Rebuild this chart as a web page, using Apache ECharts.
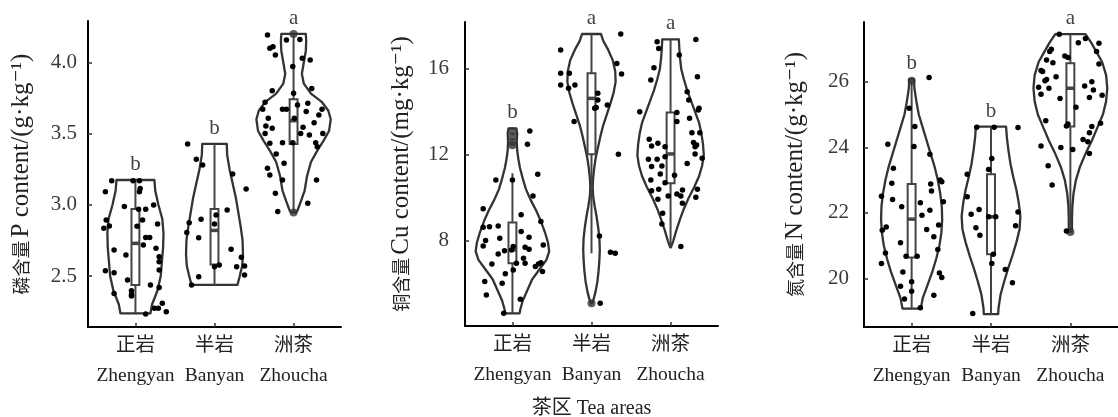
<!DOCTYPE html>
<html><head><meta charset="utf-8">
<script src="https://cdn.jsdelivr.net/npm/echarts@6/dist/echarts.min.js"></script>
<style>html,body{margin:0;padding:0;background:#fff}#c{width:1118px;height:417px}</style>
</head><body><div id="c"></div><script>
// ---------- data ----------
const catsZh = ['正岩', '半岩', '洲茶'];
const catsEn = ['Zhengyan', 'Banyan', 'Zhoucha'];
const yNamesZh = ['磷含量', '铜含量', '氮含量'];
const yNamesEn = ['P content/(g·kg⁻¹)', 'Cu content/(mg·kg⁻¹)', 'N content/(g·kg⁻¹)'];
const xTitle = '茶区 Tea areas';
const yTicksP = [2.5, 3.0, 3.5, 4.0];
const yTicksCu = [8, 12, 16];
const yTicksN = [20, 22, 24, 26];
const lettersP = ['b', 'b', 'a'];
const lettersCu = ['b', 'a', 'a'];
const lettersN = ['b', 'b', 'a'];

// violin outlines: [value, half width (category units)], top to bottom
const violinP = [
  [[3.174,0.24],[3.10,0.25],[3.00,0.29],[2.90,0.34],[2.80,0.355],[2.70,0.35],[2.60,0.335],[2.50,0.32],[2.40,0.28],[2.30,0.21],[2.238,0.19]],
  [[3.427,0.155],[3.35,0.16],[3.25,0.19],[3.15,0.23],[3.05,0.27],[2.95,0.30],[2.85,0.33],[2.75,0.355],[2.65,0.36],[2.57,0.35],[2.50,0.32],[2.437,0.29]],
  [[4.199,0.155],[4.15,0.16],[4.08,0.155],[4.00,0.13],[3.92,0.105],[3.85,0.13],[3.78,0.22],[3.72,0.36],[3.66,0.44],[3.60,0.47],[3.52,0.45],[3.45,0.38],[3.38,0.30],[3.30,0.22],[3.20,0.17],[3.10,0.14],[3.02,0.09],[2.96,0.05],[2.945,0.03]]
];
const violinCu = [
  [[13.23,0.05],[13.0,0.06],[12.6,0.055],[12.2,0.06],[11.8,0.075],[11.4,0.095],[10.9,0.13],[10.4,0.17],[9.9,0.23],[9.4,0.30],[8.9,0.36],[8.4,0.41],[7.9,0.45],[7.5,0.465],[7.1,0.43],[6.7,0.35],[6.2,0.25],[5.7,0.19],[5.2,0.13],[4.8,0.10],[4.61,0.09]],
  [[17.63,0.12],[17.3,0.15],[16.9,0.21],[16.4,0.27],[15.9,0.30],[15.4,0.305],[14.9,0.28],[14.4,0.24],[13.9,0.195],[13.4,0.15],[12.9,0.115],[12.4,0.085],[11.9,0.055],[11.4,0.035],[10.9,0.02],[10.5,0.015],[10.1,0.02],[9.6,0.04],[9.1,0.065],[8.6,0.085],[8.1,0.10],[7.6,0.105],[7.1,0.10],[6.6,0.09],[6.1,0.075],[5.6,0.05],[5.25,0.025],[5.08,0.005]],
  [[17.38,0.105],[17.0,0.11],[16.5,0.12],[16.0,0.135],[15.5,0.17],[15.0,0.21],[14.5,0.26],[14.0,0.31],[13.5,0.36],[13.0,0.39],[12.5,0.41],[12.0,0.42],[11.5,0.40],[11.0,0.36],[10.5,0.30],[10.0,0.23],[9.5,0.17],[9.0,0.12],[8.5,0.075],[8.0,0.035],[7.69,0.005]]
];
const violinN = [
  [[26.07,0.03],[25.8,0.035],[25.4,0.06],[25.0,0.09],[24.6,0.14],[24.2,0.19],[23.8,0.24],[23.4,0.29],[23.0,0.33],[22.6,0.36],[22.2,0.38],[21.8,0.385],[21.4,0.375],[21.0,0.35],[20.6,0.31],[20.2,0.26],[19.8,0.20],[19.4,0.14],[19.08,0.115]],
  [[24.63,0.19],[24.3,0.20],[23.9,0.22],[23.5,0.245],[23.1,0.28],[22.7,0.32],[22.3,0.35],[21.9,0.37],[21.5,0.36],[21.1,0.32],[20.7,0.27],[20.3,0.215],[19.9,0.165],[19.5,0.12],[19.1,0.095],[18.91,0.09]],
  [[27.45,0.19],[27.2,0.26],[26.9,0.33],[26.6,0.40],[26.2,0.45],[25.8,0.465],[25.4,0.45],[25.0,0.41],[24.6,0.34],[24.2,0.27],[23.8,0.19],[23.4,0.12],[23.0,0.07],[22.6,0.04],[22.2,0.025],[21.8,0.02],[21.5,0.02],[21.42,0.015]]
];

// box stats: [whisker low, q1, median, q3, whisker high]
const boxP = [[2.238,2.437,2.729,2.970,3.174],[2.437,2.58,2.82,2.970,3.427],[2.945,3.427,3.59,3.74,4.199]];
const boxCu = [[4.61,6.94,7.57,8.84,11.14],[7.41,12.02,14.63,15.80,17.63],[7.69,10.67,12.04,13.97,17.38]];
const boxN = [[19.08,20.64,21.81,22.88,26.03],[18.91,20.74,21.88,23.18,24.63],[21.42,24.63,25.80,26.56,27.45]];
const outP = [[], [], [4.199, 2.945]];
const outCu = [[12.45, 12.6, 12.85, 13.1], [5.08], []];
const outN = [[26.03], [], [21.42]];

// jittered observations: [horizontal jitter (category units), value]
const ptsP = [
  [[-0.30,3.169],[-0.38,3.092],[-0.37,2.893],[-0.40,2.835],[-0.33,2.851],[-0.27,2.682],[-0.38,2.537],[-0.27,2.523],[-0.27,2.378],[-0.12,2.647],[-0.14,2.987],[-0.10,2.472],[-0.05,2.397],[-0.05,2.37],[-0.05,2.359],[-0.03,3.169],[0.05,3.169],[0.06,3.115],[0.05,3.092],[0.04,2.968],[0.13,2.968],[0.09,2.893],[0.02,2.85],[0.10,2.718],[0.13,2.771],[0.18,2.771],[0.23,2.998],[0.28,2.865],[0.26,2.694],[0.30,2.636],[0.30,2.600],[0.30,2.542],[0.30,2.420],[0.19,2.437],[0.34,2.308],[0.29,2.273],[0.24,2.273],[0.13,2.233],[0.39,2.249]],
  [[-0.34,3.427],[-0.23,3.319],[-0.15,3.279],[0.23,3.216],[0.40,3.111],[-0.32,2.874],[-0.17,2.898],[-0.35,2.806],[-0.20,2.769],[0.02,2.928],[0.00,2.865],[0.16,2.963],[0.21,2.687],[0.00,2.565],[0.06,2.577],[0.34,2.631],[0.28,2.565],[0.38,2.57],[0.38,2.507],[-0.20,2.495],[-0.29,2.437]],
  [[-0.33,4.192],[-0.30,4.098],[-0.26,4.110],[-0.23,4.051],[-0.09,4.157],[0.08,4.161],[-0.01,3.970],[0.11,4.028],[0.21,4.016],[0.23,3.817],[-0.27,3.801],[-0.36,3.719],[-0.39,3.670],[-0.32,3.607],[-0.35,3.553],[-0.27,3.537],[-0.36,3.501],[-0.30,3.431],[-0.22,3.356],[-0.12,3.291],[-0.33,3.256],[-0.30,3.209],[-0.14,3.174],[-0.23,3.080],[-0.20,2.952],[-0.14,3.670],[-0.09,3.670],[0.00,3.782],[0.05,3.700],[0.16,3.654],[0.18,3.712],[0.01,3.607],[0.12,3.544],[0.09,3.501],[0.20,3.490],[-0.01,3.436],[-0.14,3.436],[0.36,3.670],[0.32,3.630],[0.26,3.576],[0.37,3.501],[0.28,3.436],[0.30,3.408],[0.29,3.174],[0.18,3.010]]
];
const ptsCu = [
  [[-0.37,9.48],[-0.21,10.83],[-0.29,8.65],[-0.18,8.68],[-0.37,8.62],[-0.34,8.00],[-0.37,7.75],[-0.16,8.11],[-0.18,7.38],[-0.10,7.53],[-0.26,6.91],[-0.35,6.09],[-0.33,5.47],[-0.13,6.01],[-0.09,6.45],[-0.01,7.56],[0.01,7.72],[0.00,10.83],[0.11,9.20],[0.11,8.42],[0.21,8.16],[0.21,7.60],[0.16,7.69],[0.14,7.18],[0.05,6.94],[0.01,6.63],[0.16,6.94],[0.33,6.91],[0.36,6.97],[0.29,6.79],[0.38,6.56],[0.39,7.80],[0.36,8.89],[0.26,10.08],[0.32,11.09],[0.19,12.49],[0.22,13.11],[0.10,5.27],[-0.11,4.61]],
  [[-0.39,16.89],[-0.39,15.80],[-0.28,15.80],[-0.39,15.25],[-0.29,15.10],[-0.21,15.25],[-0.22,13.55],[0.08,14.87],[0.08,14.56],[0.06,14.21],[0.04,14.17],[0.20,14.32],[0.32,16.26],[0.37,17.63],[0.38,15.77],[0.34,12.02],[0.10,8.22],[0.24,7.46],[0.30,7.41],[0.11,5.08]],
  [[-0.39,14.01],[-0.17,17.27],[-0.15,16.96],[-0.21,16.06],[-0.25,15.49],[0.11,16.65],[0.32,17.38],[0.34,15.64],[0.21,14.94],[0.23,14.56],[0.36,14.17],[0.35,14.09],[0.24,13.70],[0.08,13.97],[0.08,13.55],[0.27,13.03],[0.37,13.03],[0.29,12.57],[0.31,12.38],[0.33,12.46],[0.31,12.04],[0.40,11.84],[0.21,11.60],[0.05,11.05],[-0.27,12.72],[-0.24,12.41],[-0.16,12.54],[-0.07,12.38],[-0.28,11.79],[-0.24,11.45],[-0.11,11.48],[-0.17,11.79],[-0.07,11.91],[-0.13,11.11],[-0.25,10.83],[-0.24,10.33],[-0.15,10.39],[-0.07,10.70],[-0.16,9.93],[-0.03,10.08],[-0.10,9.27],[-0.11,8.78],[0.08,10.17],[0.15,10.36],[0.13,10.08],[0.15,9.74],[0.34,10.39],[0.32,10.02],[0.13,7.72]]
];
const ptsN = [
  [[-0.30,24.09],[-0.23,23.36],[-0.25,22.90],[-0.24,22.41],[-0.38,22.51],[-0.37,21.47],[-0.32,21.57],[-0.33,20.78],[-0.38,20.46],[-0.14,21.09],[-0.11,20.20],[-0.14,19.76],[-0.09,19.37],[-0.07,20.68],[-0.03,25.19],[0.04,24.63],[0.03,24.02],[0.00,19.90],[0.00,19.61],[0.07,20.68],[0.11,22.31],[0.13,21.93],[0.19,21.49],[0.22,26.13],[0.23,23.79],[0.24,22.88],[0.25,22.67],[0.23,22.08],[0.34,21.63],[0.28,21.27],[0.33,20.88],[0.36,23.00],[0.38,22.95],[0.40,22.34],[0.35,20.17],[0.38,20.03],[0.28,19.49],[0.11,19.11],[-0.125,22.19]],
  [[-0.30,23.18],[-0.30,22.49],[-0.25,21.96],[-0.15,22.10],[-0.19,21.55],[-0.14,21.32],[-0.23,18.93],[-0.18,24.61],[0.04,24.61],[0.01,23.66],[-0.03,23.32],[-0.03,21.88],[0.06,21.88],[0.03,20.74],[0.01,20.46],[0.18,20.27],[0.27,19.87],[0.34,22.03],[0.31,21.61],[0.34,24.60]],
  [[-0.14,27.45],[-0.24,26.99],[-0.26,26.92],[-0.30,26.66],[-0.22,26.58],[-0.37,26.34],[-0.35,26.31],[-0.30,26.07],[-0.32,26.03],[-0.18,26.15],[-0.40,25.83],[-0.27,25.80],[-0.37,25.62],[-0.13,25.49],[-0.31,24.81],[-0.37,24.04],[-0.28,23.44],[-0.23,22.85],[-0.12,23.99],[-0.07,26.78],[-0.03,26.74],[-0.03,24.71],[-0.05,24.65],[0.03,23.93],[0.07,25.22],[0.10,27.19],[0.19,27.32],[0.36,27.17],[0.33,26.92],[0.36,26.54],[0.18,25.87],[0.27,26.00],[0.29,25.75],[0.24,25.52],[0.40,25.59],[0.38,24.73],[0.27,24.63],[0.24,24.44],[0.16,24.24],[0.22,24.17],[0.24,23.81],[-0.05,21.45]]
];

// ---------- chart ----------
const SERIF = "'Liberation Serif', 'DejaVu Serif', serif";
const FONT = "'Liberation Serif', 'Noto Sans CJK SC', serif";
const CJK = "'Noto Sans CJK SC', sans-serif";
const panels = [
  {violin: violinP, box: boxP, out: outP, pts: ptsP, letters: lettersP, ticks: yTicksP, fmt: v => v.toFixed(1),
   grid: {left: 88, top: 21, width: 253, height: 306}, min: 2.142, max: 4.29, nameGap: 54, labMargin: 11},
  {violin: violinCu, box: boxCu, out: outCu, pts: ptsCu, letters: lettersCu, ticks: yTicksCu, fmt: v => String(v),
   grid: {left: 465, top: 22, width: 253, height: 304}, min: 4.02, max: 18.19, nameGap: 51, labMargin: 16},
  {violin: violinN, box: boxN, out: outN, pts: ptsN, letters: lettersN, ticks: yTicksN, fmt: v => String(v),
   grid: {left: 864, top: 22, width: 254, height: 305}, min: 18.52, max: 27.82, nameGap: 56, labMargin: 15}
];

const grids = [], xAxes = [], yAxes = [], series = [];
panels.forEach((p, k) => {
  grids.push(Object.assign({outerBoundsMode: 'none', containLabel: false}, p.grid));
  xAxes.push({
    type: 'value', gridIndex: k, min: 0.4, max: 3.6,
    splitLine: {show: false},
    axisLine: {show: true, lineStyle: {color: '#000', width: 2}},
    axisTick: {show: true, inside: true, length: 4, customValues: [1, 2, 3], lineStyle: {color: '#333', width: 1.5}},
    axisLabel: {show: true, customValues: [1, 2, 3], margin: 4, color: '#222', fontSize: 19.5, lineHeight: 30, fontFamily: FONT,
      formatter: v => { const i = Math.round(v) - 1; return catsZh[i] + '\n' + catsEn[i]; }},
    name: k === 1 ? xTitle : '', nameLocation: 'middle', nameGap: 73,
    nameTextStyle: {color: '#222', fontSize: 20, fontFamily: FONT}
  });
  yAxes.push({
    type: 'value', gridIndex: k, min: p.min, max: p.max,
    splitLine: {show: false},
    axisLine: {show: true, lineStyle: {color: '#000', width: 2}},
    axisTick: {show: true, inside: true, length: 4, customValues: p.ticks, lineStyle: {color: '#333', width: 1.5}},
    axisLabel: {show: true, customValues: p.ticks, margin: p.labMargin, color: '#3a3a3a', fontSize: 21, fontFamily: FONT,
      formatter: p.fmt},
    name: '{cn|' + yNamesZh[k] + '} {en|' + yNamesEn[k] + '}', nameLocation: 'middle', nameRotate: 90, nameGap: p.nameGap,
    nameTextStyle: {color: '#222', rich: {
      cn: {fontSize: 18, fontFamily: CJK, color: '#222'},
      en: {fontSize: 25, fontFamily: SERIF, color: '#222'}
    }}
  });

  // violins + boxes
  series.push({
    type: 'custom', xAxisIndex: k, yAxisIndex: k, silent: true, z: 2,
    data: [0, 1, 2].map(g => [g + 1, p.box[g][2]]),
    renderItem: (params, api) => {
      const g = params.dataIndex, c = g + 1;
      const prof = p.violin[g];
      const poly = [];
      prof.forEach(([v, hw]) => poly.push(api.coord([c + hw, v])));
      for (let i = prof.length - 1; i >= 0; i--) poly.push(api.coord([c - prof[i][1], prof[i][0]]));
      const b = p.box[g];
      const bw = 0.05;
      const lo = api.coord([c, b[0]]), hi = api.coord([c, b[4]]);
      const q1l = api.coord([c - bw, b[1]]), q3r = api.coord([c + bw, b[3]]);
      const ml = api.coord([c - bw, b[2]]), mr = api.coord([c + bw, b[2]]);
      return {type: 'group', children: [
        {type: 'polygon', shape: {points: poly, smooth: 0}, style: {fill: 'none', stroke: '#333', lineWidth: 2.3, lineJoin: 'round'}},
        {type: 'line', shape: {x1: lo[0], y1: lo[1], x2: hi[0], y2: hi[1]}, style: {stroke: '#444', lineWidth: 2}},
        {type: 'rect', shape: {x: q1l[0], y: q3r[1], width: q3r[0] - q1l[0], height: q1l[1] - q3r[1]},
          style: {fill: '#fff', stroke: '#444', lineWidth: 2}},
        {type: 'line', shape: {x1: ml[0], y1: ml[1], x2: mr[0], y2: mr[1]}, style: {stroke: '#444', lineWidth: 3.5}}
      ]};
    }
  });
  // outliers
  const outData = [];
  p.out.forEach((arr, g) => arr.forEach(v => outData.push([g + 1, v])));
  series.push({type: 'scatter', xAxisIndex: k, yAxisIndex: k, silent: true, z: 3, symbolSize: 8,
    itemStyle: {color: '#333'}, data: outData});
  // observations
  const ptData = [];
  p.pts.forEach((arr, g) => arr.forEach(([dx, v]) => ptData.push([g + 1 + dx, v])));
  series.push({type: 'scatter', xAxisIndex: k, yAxisIndex: k, silent: true, z: 4, symbolSize: 5.5,
    itemStyle: {color: '#000', opacity: 1}, data: ptData});
  // significance letters
  series.push({type: 'scatter', xAxisIndex: k, yAxisIndex: k, silent: true, z: 5, symbolSize: 0,
    data: [0, 1, 2].map(g => ({value: [g + 1, p.violin[g][0][0]], name: p.letters[g]})),
    label: {show: true, position: 'top', distance: 5, formatter: '{b}', color: '#111', fontSize: 21, fontFamily: FONT}});
});

const chart = echarts.init(document.getElementById('c'), null, {renderer: 'canvas'});
chart.setOption({
  animation: false,
  backgroundColor: '#fff',
  textStyle: {fontFamily: FONT},
  grid: grids, xAxis: xAxes, yAxis: yAxes, series: series
});
</script></body></html>
